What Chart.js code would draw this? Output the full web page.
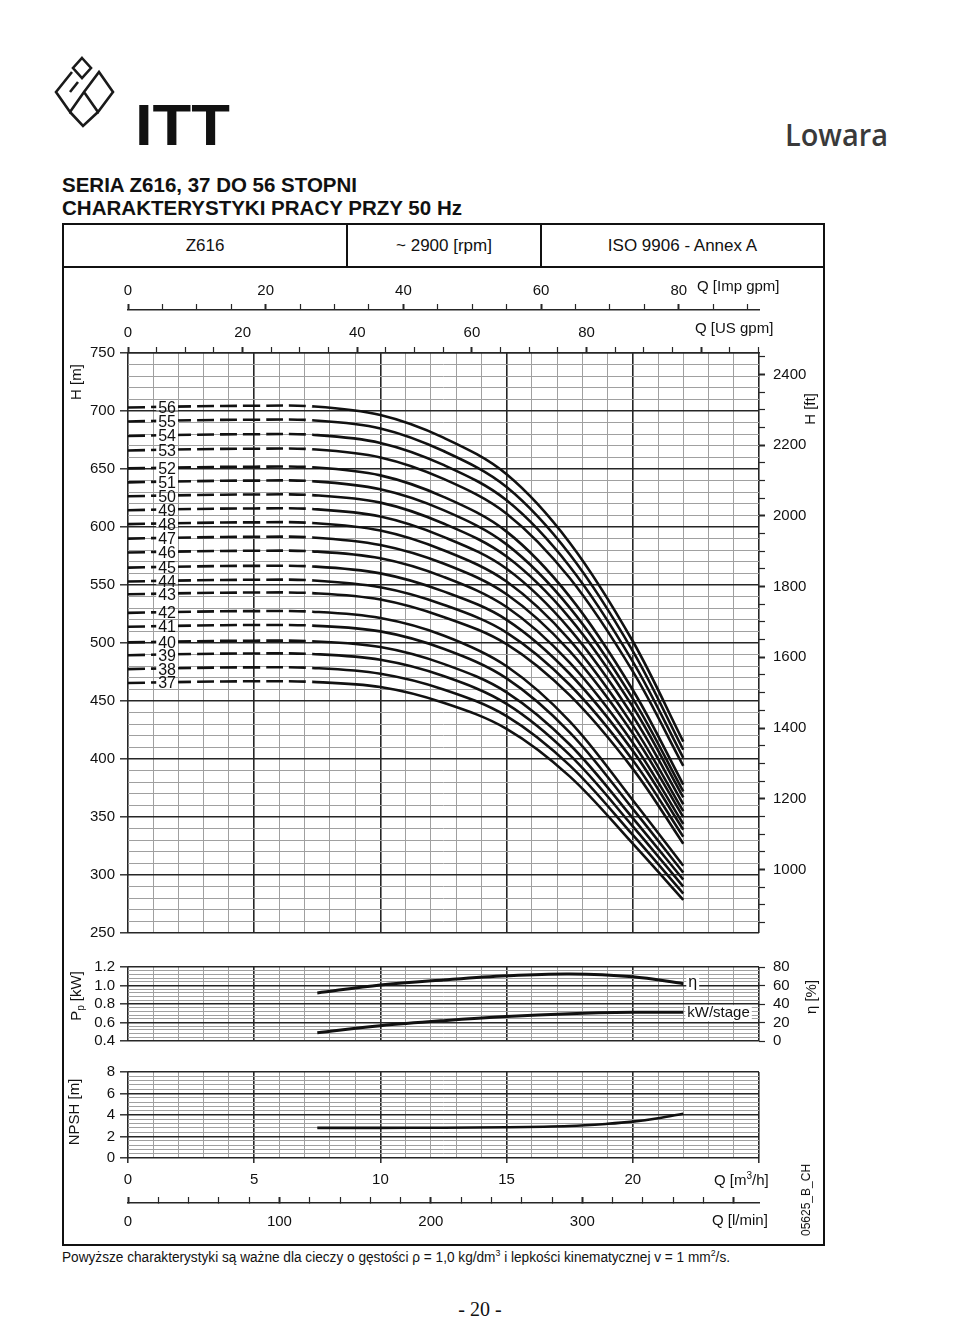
<!DOCTYPE html>
<html>
<head>
<meta charset="utf-8">
<script src="https://cdn.jsdelivr.net/npm/chart.js@4.4.1/dist/chart.umd.min.js"></script>
<style>
  body { margin: 0; background: #fff; }
  #page { position: relative; width: 960px; height: 1317px; overflow: hidden; font-family: "Liberation Sans", Arial, sans-serif; color: #111; }
  .abs { position: absolute; white-space: nowrap; line-height: 1; }
  .fit { display: inline-block; transform-origin: 0 50%; }
  canvas { position: absolute; }
  .cell { position: absolute; top: 225px; height: 41px; line-height: 41px; text-align: center; font-size: 17px; }
</style>
</head>
<body>
<div id="page">
  <svg class="abs" style="left:0;top:0" width="130" height="150" viewBox="0 0 130 150">
    <g fill="#fff" stroke="#1a1a1a" stroke-width="2.6" stroke-linejoin="miter">
      <polygon points="82,58 91,68 82,78 73,68"/>
      <polyline points="72,72 56,92 70,112 84,92 98,112 113,92 99,72 84,92" fill="none"/>
      <polyline points="70,112 83,126 98,112" fill="none"/>
      <polyline points="78,82 70,92" fill="none"/>
    </g>
  </svg>
  <div class="abs" style="left:135px;top:97px;font-size:57px;font-weight:bold"><span id="itt" class="fit">ITT</span></div>
  <div class="abs" style="left:785px;top:120px;font-family:'Open Sans',sans-serif;font-size:30px;font-weight:600;color:#3a3a3a"><span id="lowara" class="fit">Lowara</span></div>
  <div class="abs" style="left:62px;top:174px;font-size:21px;font-weight:bold"><span id="t1" class="fit">SERIA Z616, 37 DO 56 STOPNI</span></div>
  <div class="abs" style="left:62px;top:197px;font-size:21px;font-weight:bold"><span id="t2" class="fit">CHARAKTERYSTYKI PRACY PRZY 50 Hz</span></div>

  <!-- frame -->
  <div class="abs" style="left:62px;top:223px;width:763px;height:1023px;border:2px solid #111;box-sizing:border-box"></div>
  <div class="abs" style="left:62px;top:266px;width:763px;height:2px;background:#111"></div>
  <div class="abs" style="left:346px;top:223px;width:2px;height:44px;background:#111"></div>
  <div class="abs" style="left:540px;top:223px;width:2px;height:44px;background:#111"></div>
  <div class="cell" style="left:64px;width:282px">Z616</div>
  <div class="cell" style="left:348px;width:192px">~ 2900 [rpm]</div>
  <div class="cell" style="left:542px;width:281px">ISO 9906 - Annex A</div>

  <canvas id="chart-head" width="763" height="683" style="left:62px;top:267px"></canvas>
  <canvas id="chart-power" width="763" height="108" style="left:62px;top:950px"></canvas>
  <canvas id="chart-npsh" width="763" height="187" style="left:62px;top:1058px"></canvas>

  <div class="abs" style="left:806px;top:1200px;font-size:12px;transform:translate(-50%,-50%) rotate(-90deg);transform-origin:50% 50%">05625_B_CH</div>

  <div class="abs" style="left:62px;top:1249px;font-size:14px"><span id="foot" class="fit">Powyższe charakterystyki są ważne dla cieczy o gęstości ρ = 1,0 kg/dm<sup style="font-size:9px">3</sup> i lepkości kinematycznej v = 1 mm<sup style="font-size:9px">2</sup>/s.</span></div>
  <div class="abs" style="left:0;width:960px;top:1299px;text-align:center;font-family:'Liberation Serif',serif;font-size:20px">- 20 -</div>
</div>

<script>
/* ── DATA ── */
const qHead = [0, 2.5, 5, 7.3, 10, 12.5, 15, 17.5, 20, 22];   // m3/h
const dashEndQ = 7.3;
const labelQ = 1.55;
const stageNames = ['56','55','54','53','52','51','50','49','48','47','46','45','44','43','42','41','40','39','38','37'];

const h56 = [703, 704, 704.5, 704, 696.5, 677, 645.5, 586.5, 501.5, 415];
const h55 = [691, 692, 692.5, 692, 685, 665.5, 634.5, 576.5, 493, 408];
const h54 = [678.5, 679.5, 680, 679.5, 672.5, 653.5, 623, 566, 484, 401];
const h53 = [666, 667, 667.5, 667, 660, 641.5, 611.5, 556, 475.5, 394];
const h52 = [650.5, 651.5, 652, 651.5, 644.5, 626, 596, 540, 459.5, 378];
const h51 = [638.5, 639.5, 640, 639.5, 632.5, 614.5, 585, 530.5, 452, 372];
const h50 = [626.5, 627.5, 628, 627.5, 621, 603, 574.5, 521.5, 445, 367];
const h49 = [614.5, 615.5, 616, 615.5, 609, 591.5, 564, 512, 437, 361];
const h48 = [602.5, 603.5, 604, 603.5, 597, 580, 553, 502.5, 429, 355];
const h47 = [590, 591, 591.5, 591, 584.5, 568.5, 542, 493, 422, 350];
const h46 = [578, 579, 579.5, 579, 573, 557, 531, 483, 414, 344];
const h45 = [565, 566, 566.5, 566, 560, 544.5, 520, 473.5, 407, 339];
const h44 = [553, 554, 554.5, 554, 548, 533, 509, 464, 399, 333];
const h43 = [542, 543, 543.5, 543, 537.5, 522.5, 499, 455, 391.5, 327];
const h42 = [526, 527, 527.5, 527, 521.5, 506.5, 480, 432.5, 364.5, 308];
const h41 = [514, 515, 515.5, 515, 510, 495, 469.5, 423, 357, 302];
const h40 = [500.5, 501.5, 502, 501.5, 496.5, 482, 457.5, 412.5, 349, 296];
const h39 = [489.5, 490.5, 491, 490.5, 485.5, 471.5, 447.5, 403.5, 342, 290];
const h38 = [477.5, 478.5, 479, 478.5, 473.5, 460, 437, 394.5, 334.5, 284];
const h37 = [465.5, 466.5, 467, 466.5, 462, 448.5, 426, 385, 327, 278.5];
const headCurves = [h56, h55, h54, h53, h52, h51, h50, h49, h48, h47, h46, h45, h44, h43, h42, h41, h40, h39, h38, h37];

const qPerf = [7.5, 10, 12.5, 15, 17.5, 20, 22];
const etaPct = [52, 60.5, 66, 70.5, 72.5, 69.5, 62];
const kwStage = [0.49, 0.565, 0.62, 0.665, 0.695, 0.71, 0.712];
const qNpsh = [7.5, 10, 12.5, 15, 17.5, 19, 20, 21, 22];
const npshM = [2.8, 2.8, 2.82, 2.86, 2.98, 3.18, 3.38, 3.7, 4.12];

/* tick labels */
const qM3hLabels = [0, 5, 10, 15, 20];
const qLminLabels = [0, 100, 200, 300];
const qImpLabels = [0, 20, 40, 60, 80];
const qUsLabels = [0, 20, 40, 60, 80];
const hMLabels = [250, 300, 350, 400, 450, 500, 550, 600, 650, 700, 750];
const hFtLabels = [1000, 1200, 1400, 1600, 1800, 2000, 2200, 2400];
const pKwLabels = [0.4, 0.6, 0.8, 1.0, 1.2];
const etaLabels = [0, 20, 40, 60, 80];
const npshLabels = [0, 2, 4, 6, 8];

/* unit conversions (from m3/h, m) */
const IMP = 3.66615, USG = 4.40287, LMIN = 1000 / 60, FT = 3.28084;

/* ── HELPERS ── */
const FONT = '"Liberation Sans", Arial, sans-serif';
const tickFont = { family: FONT, size: 15 };
const MAJOR = '#262626', MINOR = '#a0a0a0';
const range = (a, b, st) => { const o = []; for (let i = 0; a + i * st <= b + 1e-9; i++) o.push(+(a + i * st).toFixed(6)); return o; };
const isMult = (v, st) => Math.abs(v / st - Math.round(v / st)) < 1e-6;
const has = (arr, v) => arr.some(a => Math.abs(a - v) < 1e-6);
const fixed = size => s => { if (s.isHorizontal()) s.height = size; else s.width = size; };
const setTicks = vals => s => { s.ticks = vals.map(v => ({ value: v })); };
const fmt1 = v => v.toFixed(1);

function gridX() {
  return {
    type: 'linear', position: 'bottom', min: 0, max: 25,
    afterBuildTicks: setTicks(range(0, 25, 1)), afterFit: fixed(0),
    ticks: { display: false }, border: { display: false },
    grid: { drawTicks: false, color: c => isMult(c.tick.value, 5) ? MAJOR : MINOR, lineWidth: c => isMult(c.tick.value, 5) ? 1.6 : 1 }
  };
}
function gridY(min, max, step, major, labels, fmt) {
  return {
    type: 'linear', position: 'left', min, max,
    afterBuildTicks: setTicks(range(min, max, step)), afterFit: fixed(66),
    border: { display: false },
    grid: {
      color: c => isMult(c.tick.value, major) ? MAJOR : MINOR,
      lineWidth: c => isMult(c.tick.value, major) ? 1.6 : 1,
      tickLength: 8, tickWidth: 1.4,
      tickColor: c => has(labels, c.tick.value) ? MAJOR : 'rgba(0,0,0,0)'
    },
    ticks: { autoSkip: false, padding: 5, font: tickFont, color: '#111', callback: v => has(labels, v) ? (fmt ? fmt(v) : String(v)) : '' }
  };
}
function sideAxis(position, min, max, vals, labels, size, tl, pad, weight, bold) {
  return {
    type: 'linear', position, min, max, weight,
    afterBuildTicks: setTicks(vals), afterFit: fixed(size),
    border: { display: position === 'top' || weight === 2, color: MAJOR, width: 1.5 },
    grid: { drawOnChartArea: false, tickLength: tl, tickColor: MAJOR, tickWidth: c => bold(c.tick.value) ? 2 : 1.2 },
    ticks: { autoSkip: false, maxRotation: 0, padding: pad, font: tickFont, color: '#111', callback: v => has(labels, v) ? String(v) : '' }
  };
}

function vText(ctx, x, y, pieces) {
  ctx.save(); ctx.translate(x, y); ctx.rotate(-Math.PI / 2);
  ctx.textBaseline = 'middle'; ctx.textAlign = 'left'; ctx.fillStyle = '#111';
  let total = 0;
  pieces.forEach(p => { ctx.font = p.s + 'px ' + FONT; total += ctx.measureText(p.t).width; });
  let cx = -total / 2;
  pieces.forEach(p => { ctx.font = p.s + 'px ' + FONT; ctx.fillText(p.t, cx, p.dy || 0); cx += ctx.measureText(p.t).width; });
  ctx.restore();
}
function hText(ctx, x, y, pieces, bg) {
  ctx.save(); ctx.textBaseline = 'middle'; ctx.textAlign = 'left';
  let total = 0;
  pieces.forEach(p => { ctx.font = p.s + 'px ' + FONT; total += ctx.measureText(p.t).width; });
  if (bg) { ctx.fillStyle = '#fff'; ctx.fillRect(x - 2, y - 8, total + 4, 16); }
  ctx.fillStyle = '#111';
  let cx = x;
  pieces.forEach(p => { ctx.font = p.s + 'px ' + FONT; ctx.fillText(p.t, cx, y + (p.dy || 0)); cx += ctx.measureText(p.t).width; });
  ctx.restore();
}

const common = { responsive: false, animation: false, events: [], plugins: { legend: { display: false }, tooltip: { enabled: false } } };
const lineStyle = { borderColor: '#111', pointRadius: 0, fill: false, tension: 0.35 };

/* ── HEAD CHART ── */
new Chart(document.getElementById('chart-head'), {
  type: 'line',
  data: {
    datasets: headCurves.map(h => ({
      ...lineStyle, borderWidth: 2.6,
      data: qHead.map((q, j) => ({ x: q, y: h[j] })),
      segment: { borderDash: c => c.p1.parsed.x <= dashEndQ + 1e-6 ? [17, 6] : undefined }
    }))
  },
  options: {
    ...common,
    layout: { padding: { left: 0, right: 0, top: 0, bottom: 10 } },
    scales: {
      x: gridX(),
      xImp: sideAxis('top', 0, 25 * IMP, range(0, 90, 5), qImpLabels, 43, 6, 4, 2, v => isMult(v, 20)),
      xUs: sideAxis('top', 0, 25 * USG, range(0, 110, 5), qUsLabels, 43, 6, 5, 1, v => isMult(v, 20)),
      y: gridY(250, 750, 10, 50, hMLabels),
      yFt: { ...sideAxis('right', 250 * FT, 750 * FT, range(850, 2450, 50), hFtLabels, 66, 6, 8, 1, v => isMult(v, 200)), border: { display: false } }
    }
  },
  plugins: [{
    id: 'headText',
    afterDatasetsDraw(chart) {
      const { ctx, chartArea: a, scales: { x, y } } = chart;
      ctx.save();
      ctx.font = '16px ' + FONT; ctx.textAlign = 'center'; ctx.textBaseline = 'middle';
      headCurves.forEach((h, i) => {
        const px = x.getPixelForValue(labelQ), py = y.getPixelForValue(h[0]);
        const w = ctx.measureText(stageNames[i]).width;
        ctx.fillStyle = '#fff'; ctx.fillRect(px - w / 2 - 2, py - 3, w + 4, 6);
        ctx.fillStyle = '#111'; ctx.fillText(stageNames[i], px, py + 1);
      });
      ctx.restore();
      vText(ctx, a.left - 51, a.top + 29, [{ t: 'H [m]', s: 15 }]);
      vText(ctx, a.right + 52, a.top + 56, [{ t: 'H [ft]', s: 15 }]);
      hText(ctx, a.right - 62, a.top - 66, [{ t: 'Q [Imp gpm]', s: 15 }]);
      hText(ctx, a.right - 64, a.top - 24, [{ t: 'Q [US gpm]', s: 15 }]);
    }
  }]
});

/* ── POWER / EFFICIENCY CHART ── */
new Chart(document.getElementById('chart-power'), {
  type: 'line',
  data: {
    datasets: [
      { ...lineStyle, borderWidth: 3, yAxisID: 'yEta', data: qPerf.map((q, j) => ({ x: q, y: etaPct[j] })) },
      { ...lineStyle, borderWidth: 3, yAxisID: 'y', data: qPerf.map((q, j) => ({ x: q, y: kwStage[j] })) }
    ]
  },
  options: {
    ...common,
    layout: { padding: { top: 13, bottom: 10 } },
    scales: {
      x: gridX(),
      y: gridY(0.4, 1.2, 0.04, 0.2, pKwLabels, fmt1),
      yEta: sideAxis('right', 0, 80, etaLabels, etaLabels, 66, 6, 8, 1, () => false)
    }
  },
  plugins: [{
    id: 'powerText',
    afterDatasetsDraw(chart) {
      const { ctx, chartArea: a, scales: { x, y, yEta } } = chart;
      const ex = x.getPixelForValue(qPerf[qPerf.length - 1]);
      hText(ctx, ex + 5, yEta.getPixelForValue(etaPct[etaPct.length - 1]) - 1, [{ t: 'η', s: 16 }], true);
      hText(ctx, ex + 4, y.getPixelForValue(kwStage[kwStage.length - 1]) + 1, [{ t: 'kW/stage', s: 15 }], true);
      vText(ctx, a.left - 51, a.top + 29, [{ t: 'P', s: 15 }, { t: 'p', s: 10, dy: 4 }, { t: ' [kW]', s: 15 }]);
      vText(ctx, a.right + 53, a.top + 30, [{ t: 'η [%]', s: 15 }]);
    }
  }]
});

/* ── NPSH CHART ── */
new Chart(document.getElementById('chart-npsh'), {
  type: 'line',
  data: {
    datasets: [{ ...lineStyle, borderWidth: 2.6, data: qNpsh.map((q, j) => ({ x: q, y: npshM[j] })) }]
  },
  options: {
    ...common,
    layout: { padding: { top: 13, right: 66, bottom: 2 } },
    scales: {
      x: {
        ...gridX(), afterFit: fixed(45),
        ticks: { display: true, autoSkip: false, maxRotation: 0, padding: 8, font: tickFont, color: '#111', callback: v => has(qM3hLabels, v) ? String(v) : '' },
        grid: {
          drawTicks: true, tickLength: 5, tickWidth: 1.5,
          tickColor: c => isMult(c.tick.value, 5) ? MAJOR : 'rgba(0,0,0,0)',
          color: c => isMult(c.tick.value, 5) ? MAJOR : MINOR, lineWidth: c => isMult(c.tick.value, 5) ? 1.6 : 1
        }
      },
      xL: sideAxis('bottom', 0, 25 * LMIN, range(0, 400, 20), qLminLabels, 40, -6, 16, 2, v => isMult(v, 100)),
      y: gridY(0, 8, 0.4, 2, npshLabels)
    }
  },
  plugins: [{
    id: 'npshText',
    afterDatasetsDraw(chart) {
      const { ctx, chartArea: a } = chart;
      vText(ctx, a.left - 53, a.top + 40, [{ t: 'NPSH [m]', s: 15 }]);
      hText(ctx, a.right - 45, a.bottom + 23, [{ t: 'Q [m', s: 15 }, { t: '3', s: 10, dy: -5 }, { t: '/h]', s: 15 }]);
      hText(ctx, a.right - 47, a.bottom + 63, [{ t: 'Q [l/min]', s: 15 }]);
    }
  }]
});

/* ── TEXT FITTING ── */
function fitText(id, w) {
  const el = document.getElementById(id);
  el.style.transform = `scaleX(${w / el.getBoundingClientRect().width})`;
}
fitText('itt', 95);
fitText('lowara', 103);
fitText('t1', 295);
fitText('t2', 400);
fitText('foot', 668);
</script>
</body>
</html>
